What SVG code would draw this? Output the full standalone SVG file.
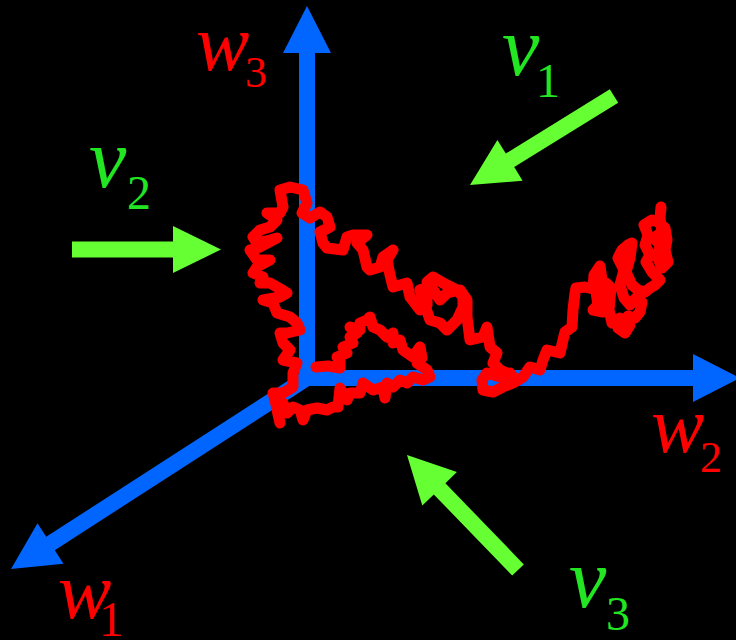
<svg xmlns="http://www.w3.org/2000/svg" width="736" height="640" viewBox="0 0 736 640">
<style>
.ax{fill:#0066ff}
.va{fill:#66ff33}
.walk{fill:none;stroke:#ff0000;stroke-width:11;stroke-linejoin:round;stroke-linecap:round}
.wl{font-family:"Liberation Serif","Times New Roman",serif;fill:#ff0000}
.vl{font-family:"Liberation Serif","Times New Roman",serif;fill:#22e622}
.m{font-style:italic}
</style>
<rect x="0" y="0" width="736" height="640" fill="#000000"/>
<g id="axes">
  <g id="axis-w3"><polygon class="ax" points="299,386 299,53 283,53 307,6 331,53 315,53 315,386"/></g>
  <g id="axis-w2"><polygon class="ax" points="299,370 693,370 693,354 740,378 693,402 693,386 299,386"/></g>
  <g id="axis-w1"><polygon class="ax" points="302.7,371.3 46.2,536.8 37.5,523.3 11,569 63.5,563.7 54.8,550.2 311.3,384.7"/></g>
  <rect class="ax" x="299" y="370" width="16" height="16"/>
</g>
<g id="connectors">
  <g id="arrow-v1"><polygon class="va" points="609.8,89.2 505.8,153.5 497.4,139.9 470,185 522.6,180.7 514.2,167.1 618.2,102.8"/></g>
  <g id="arrow-v2"><polygon class="va" points="72,241.5 173,241.5 173,226 221,249.5 173,273 173,257.5 72,257.5"/></g>
  <g id="arrow-v3"><polygon class="va" points="523.8,564.4 445.4,483.2 456.9,472.1 407,455 422.3,505.5 433.8,494.4 512.2,575.6"/></g>
</g>
<g id="random-walk">
<path class="walk" d="M316,367 L328,366 L340,368 L340,360 L337,357 L347,353 L343,347 L353,343 L350,337 L357,333 L350,327 L360,330 L360,323 L367,320 L370,317 L373,327 L380,330 L387,337 L393,333 L393,343 L400,340 L403,350 L413,357 L420,347 L422,358 L417,363 L427,370 L430,377 L423,380 L413,377 L407,383 L400,380 L393,387 L387,383 L385,398 L383,387 L373,390 L363,383 L360,393 L350,393 L347,400 L340,388 L338,407 L333,407 L327,410 L317,408 L307,410 L303,420 L300,410 L293,407 L287,413 L283,403 L277,410 L280,423 L275,400 L273,393 L283,393 L293,387 L293,373 L297,363 L283,360 L290,350 L283,343 L280,333 L287,333 L300,330 L297,323 L290,317 L277,313 L273,303 L263,300 L280,297 L287,293 L277,287 L270,283 L260,283 L263,277 L253,273 L257,267 L270,260 L257,260 L250,250 L260,247 L277,238 L270,240 L257,243 L253,237 L260,230 L270,227 L277,220 L267,213 L280,213 L283,207 L280,190 L290,187 L303,190 L307,203 L302,213 L310,218 L320,212 L327,217 L330,227 L320,232 L323,243 L327,248 L343,250 L347,237 L353,235 L367,235 L357,243 L363,250 L367,267 L370,270 L380,267 L383,257 L393,250 L387,260 L390,275 L393,287 L407,283 L410,297 L420,310 L427,305 L427,282 L433,277 L443,283 L457,290 L463,297 L463,307 L457,320 L447,330 L440,323 L430,320 L423,300 L420,290 L430,285 L440,300 L447,293 L460,290 L467,300 L467,317 L470,340 L483,337 L487,327 L490,347 L497,353 L493,363 L500,370 L507,373 L513,377 L510,373 L500,377 L487,373 L482,380 L483,390 L493,392 L503,387 L513,383 L523,377 L530,367 L540,370 L543,360 L547,350 L560,353 L563,340 L565,332 L572,327 L573,310 L575,293 L576,288 L585,287 L593,289 L594,275 L600,266 L602,280 L596,292 L598,305 L593,310 L603,312 L608,300 L606,283 L611,288 L609,310 L612,323 L620,318 L618,328 L625,333 L630,325 L628,316 L635,318 L640,312 L642,302 L636,298 L630,305 L624,298 L620,285 L624,270 L618,258 L622,250 L628,245 L632,243 L630,258 L626,272 L632,285 L638,290 L645,292 L650,288 L655,285 L660,280 L652,272 L646,262 L650,255 L645,245 L648,235 L644,225 L652,220 L658,222 L665,228 L667,240 L665,250 L668,262 L662,268 L658,258 L660,245 L654,238 L662,232 L660,218 L661,207"/>
</g>
<g id="labels">
  <g id="label-w3"><text class="wl m" x="196" y="70" font-size="80">w</text><text class="wl" x="245" y="87" font-size="44">3</text></g>
  <g id="label-w2"><text class="wl m" x="651" y="452" font-size="80">w</text><text class="wl" x="700" y="472" font-size="44">2</text></g>
  <g id="label-w1"><text class="wl m" x="58" y="618" font-size="80">w</text><text class="wl" x="99" y="636" font-size="50">1</text></g>
  <g id="label-v1"><text class="vl m" x="502" y="75" font-size="84">v</text><text class="vl" x="536" y="97" font-size="48">1</text></g>
  <g id="label-v2"><text class="vl m" x="89" y="187" font-size="84">v</text><text class="vl" x="127" y="209" font-size="48">2</text></g>
  <g id="label-v3"><text class="vl m" x="569" y="607" font-size="84">v</text><text class="vl" x="606" y="630" font-size="48">3</text></g>
</g>
</svg>
